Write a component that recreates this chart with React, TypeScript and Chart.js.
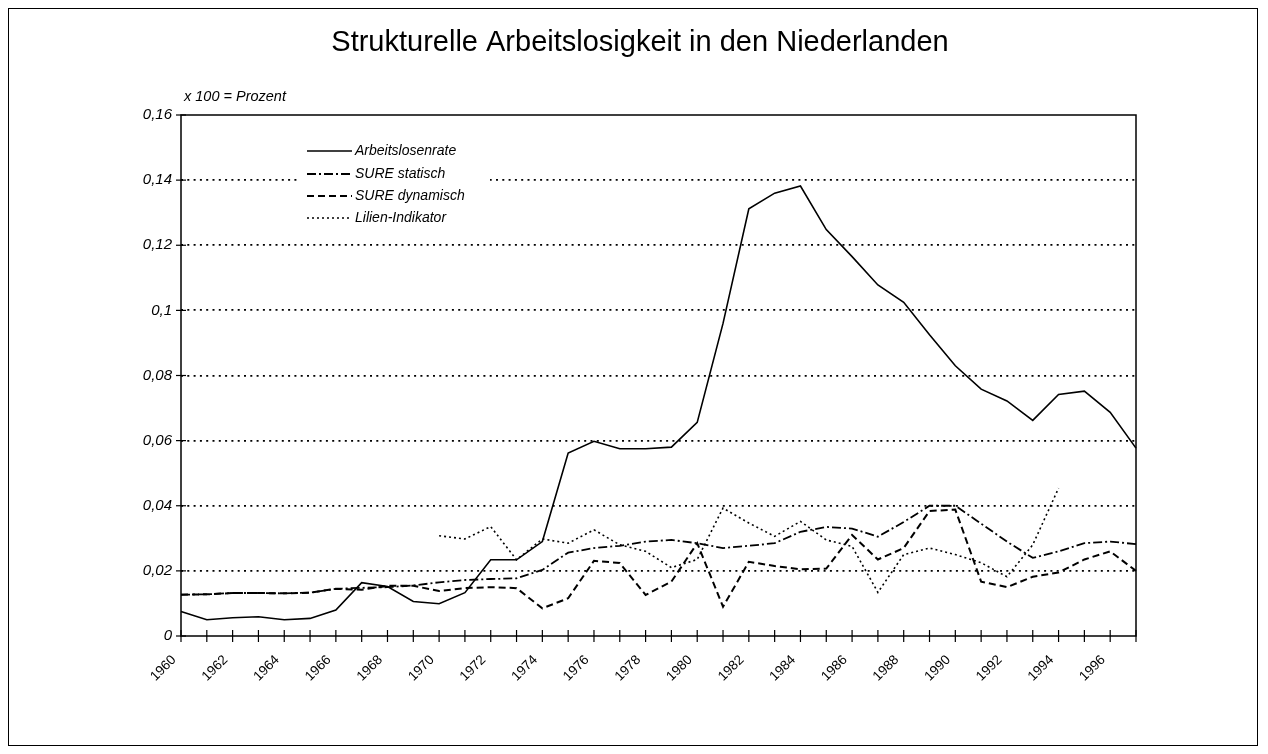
import React, { useEffect, useRef } from "react";
import { Chart, registerables } from "chart.js";

Chart.register(...registerables);

const years: string[] = [
  "1960", "1961", "1962", "1963", "1964", "1965", "1966", "1967", "1968", "1969",
  "1970", "1971", "1972", "1973", "1974", "1975", "1976", "1977", "1978", "1979",
  "1980", "1981", "1982", "1983", "1984", "1985", "1986", "1987", "1988", "1989",
  "1990", "1991", "1992", "1993", "1994", "1995", "1996", "1997",
];

const arbeitslosenrate: number[] = [
  0.0075, 0.005, 0.0056, 0.0059, 0.005, 0.0054, 0.008, 0.0164, 0.0152, 0.0106,
  0.0099, 0.0133, 0.0234, 0.0234, 0.029, 0.0562, 0.0598, 0.0575, 0.0575, 0.058,
  0.0656, 0.096, 0.1312, 0.136, 0.1382, 0.1248, 0.1165, 0.1078, 0.1025, 0.0925,
  0.083, 0.0758, 0.0722, 0.0662, 0.0742, 0.0752, 0.0687, 0.0577,
];

const sureStatisch: number[] = [
  0.0127, 0.0128, 0.0132, 0.0132, 0.0131, 0.0133, 0.0145, 0.0148, 0.015, 0.0155,
  0.0165, 0.0172, 0.0175, 0.0177, 0.0203, 0.0256, 0.027, 0.0277, 0.029, 0.0295,
  0.0285, 0.027, 0.0277, 0.0285, 0.032, 0.0335, 0.033, 0.0305, 0.035, 0.04,
  0.04, 0.0345, 0.029, 0.024, 0.026, 0.0285, 0.029, 0.0282,
];

const sureDynamisch: number[] = [
  0.0127, 0.0128, 0.0132, 0.0132, 0.0131, 0.0133, 0.0145, 0.0142, 0.0154, 0.0154,
  0.0138, 0.0147, 0.015, 0.0147, 0.0085, 0.0116, 0.0231, 0.0224, 0.0126, 0.0167,
  0.0285, 0.009, 0.0228, 0.0215, 0.0205, 0.0207, 0.031, 0.0235, 0.027, 0.0384,
  0.0388, 0.0167, 0.015, 0.0182, 0.0195, 0.0235, 0.026, 0.02,
];

const lilienIndikator: (number | null)[] = [
  null, null, null, null, null, null, null, null, null, null,
  0.0308, 0.0298, 0.0336, 0.0234, 0.0298, 0.0285, 0.0326, 0.028, 0.026, 0.021,
  0.0235, 0.0393, 0.0347, 0.0306, 0.0352, 0.0295, 0.0275, 0.0134, 0.025, 0.027,
  0.025, 0.0225, 0.0182, 0.028, 0.0454, null, null, null,
];

const seriesNames: string[] = ["Arbeitslosenrate", "SURE statisch", "SURE dynamisch", "Lilien-Indikator"];
const titleText = "Strukturelle Arbeitslosigkeit in den Niederlanden";
const subtitleText = "x 100 = Prozent";

const FONT = "'Liberation Sans', Arial, Helvetica, sans-serif";
const dashes: number[][] = [[], [9, 3, 2, 3], [7, 4], [2, 3]];
const widths: number[] = [1.6, 1.8, 2, 1.6];

const decorPlugin = {
  id: "decor",
  afterDatasetsDraw(chart: any) {
    const ctx = chart.ctx as CanvasRenderingContext2D;
    const area = chart.chartArea;
    const xs = chart.scales.x;
    const ys = chart.scales.y;
    ctx.save();
    ctx.setLineDash([]);
    ctx.strokeStyle = "#000";
    ctx.lineWidth = 1.5;
    // frame
    ctx.strokeRect(area.left, area.top, area.right - area.left, area.bottom - area.top);
    // y ticks crossing the axis
    ctx.lineWidth = 1.2;
    ys.ticks.forEach((t: any) => {
      const y = ys.getPixelForValue(t.value);
      ctx.beginPath();
      ctx.moveTo(area.left - 5, y);
      ctx.lineTo(area.left + 5, y);
      ctx.stroke();
    });
    // x ticks crossing the axis
    xs.ticks.forEach((_t: any, i: number) => {
      const x = xs.getPixelForTick(i);
      ctx.beginPath();
      ctx.moveTo(x, area.bottom - 6);
      ctx.lineTo(x, area.bottom + 6);
      ctx.stroke();
    });
    // legend box
    const lx = area.left + 119;
    const ly = area.top + 25;
    ctx.fillStyle = "#fff";
    ctx.fillRect(lx, ly, 190, 88);
    const rows = [36, 59, 81, 103];
    ctx.font = `italic 14px ${FONT}`;
    ctx.textBaseline = "middle";
    ctx.textAlign = "left";
    seriesNames.forEach((name, i) => {
      const y = area.top + rows[i];
      ctx.beginPath();
      ctx.setLineDash(dashes[i]);
      ctx.lineWidth = widths[i];
      ctx.moveTo(area.left + 126, y);
      ctx.lineTo(area.left + 171, y);
      ctx.stroke();
      ctx.setLineDash([]);
      ctx.fillStyle = "#000";
      ctx.fillText(name, area.left + 174, y);
    });
    // title and subtitle
    ctx.font = `29px ${FONT}`;
    ctx.textAlign = "center";
    ctx.fillText(titleText, 631, 34);
    ctx.font = `italic 14.5px ${FONT}`;
    ctx.textAlign = "left";
    ctx.fillText(subtitleText, area.left + 3, area.top - 18);
    ctx.restore();
  },
};

export default function App() {
  const canvasRef = useRef<HTMLCanvasElement | null>(null);

  useEffect(() => {
    if (!canvasRef.current) return;
    const mk = (label: string, data: (number | null)[], i: number) => ({
      label,
      data,
      borderColor: "#000",
      backgroundColor: "#000",
      borderWidth: widths[i],
      borderDash: dashes[i],
      pointRadius: 0,
      tension: 0,
      fill: false,
      spanGaps: false,
    });
    const chart = new Chart(canvasRef.current, {
      type: "line",
      data: {
        labels: years,
        datasets: [
          mk(seriesNames[0], arbeitslosenrate, 0),
          mk(seriesNames[1], sureStatisch, 1),
          mk(seriesNames[2], sureDynamisch, 2),
          mk(seriesNames[3], lilienIndikator, 3),
        ],
      },
      options: {
        responsive: false,
        animation: false,
        devicePixelRatio: 1,
        layout: { padding: { top: 106, right: 121, bottom: 0, left: 0 } },
        plugins: {
          legend: { display: false },
          tooltip: { enabled: false },
          title: { display: false },
        },
        scales: {
          x: {
            type: "category",
            offset: false,
            grid: { display: false },
            border: { display: false },
            ticks: {
              autoSkip: false,
              maxRotation: 45,
              minRotation: 45,
              padding: 8,
              labelOffset: -7,
              color: "#000",
              font: { family: FONT, size: 13.5 },
              callback: (_v: any, i: number) => (i % 2 === 0 ? years[i] : ""),
            },
            afterFit: (s: any) => {
              s.height = 109;
            },
          },
          y: {
            min: 0,
            max: 0.16,
            ticks: {
              stepSize: 0.02,
              padding: 9,
              color: "#000",
              font: { family: FONT, size: 15, style: "italic" },
              callback: (v: any) => Number(Number(v).toFixed(2)).toString().replace(".", ","),
            },
            grid: {
              drawTicks: false,
              lineWidth: 1.8,
              color: (c: any) =>
                c.tick && (c.tick.value <= 0.0001 || c.tick.value >= 0.1599) ? "rgba(0,0,0,0)" : "#000",
            },
            border: { display: false, dash: [2, 4.3] },
            afterFit: (s: any) => {
              s.width = 172;
            },
          },
        },
      },
      plugins: [decorPlugin],
    } as any);
    return () => chart.destroy();
  }, []);

  return (
    <div style={{ width: 1248, height: 736, border: "1px solid #000", background: "#fff" }}>
      <canvas ref={canvasRef} width={1248} height={736} />
    </div>
  );
}
